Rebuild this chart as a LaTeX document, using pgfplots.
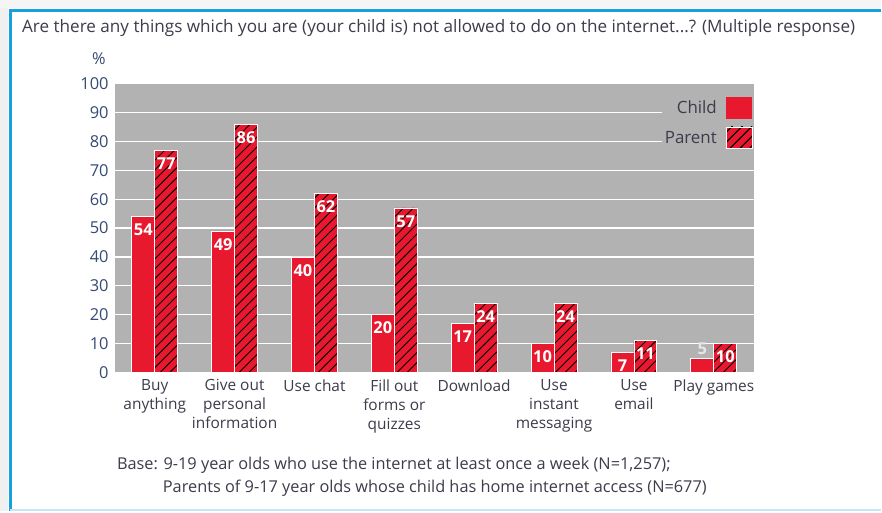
\documentclass[border=0pt]{standalone}
\usepackage{fontspec}
\setmainfont{Open Sans}
\usepackage{pgfplots}
\pgfplotsset{compat=1.18}
\usetikzlibrary{patterns.meta}
\definecolor{barred}{RGB}{232,24,46}
\definecolor{bggray}{RGB}{178,178,178}
\definecolor{frameblue}{RGB}{20,160,225}
\definecolor{txt}{RGB}{60,60,75}
\definecolor{ticktxt}{RGB}{55,75,115}
\definecolor{lightlab}{RGB}{230,230,230}

\pgfplotsset{layers/mine/.define layer set={axis background,axis grid,pre main,main,axis ticks,axis lines,axis tick labels,axis descriptions,axis foreground}{}}

\begin{document}
\begin{tikzpicture}[x=1bp,y=1bp]
\fill[white] (0,0) rectangle (882,512);
\fill[black!6] (0,0) rectangle (8,512);
\fill[black!4] (0,504) rectangle (882,512);
\draw[frameblue, line width=3bp] (10.5,0) -- (10.5,501.5) -- (882,501.5);
\draw[frameblue!25, line width=2bp] (10,1) -- (882,1);

\node[anchor=base west, inner sep=0, text=txt, font=\fontsize{17.2}{19}\selectfont] at (22,479)
  {Are there any things which you are (your child is) not allowed to do on the internet...? (Multiple response)};
\node[anchor=base, inner sep=0, text=ticktxt, font=\fontsize{16.5}{19}\selectfont] at (99,447) {\%};

\begin{axis}[
  set layers=mine,
  at={(115bp,139bp)}, anchor=south west,
  scale only axis, width=640bp, height=289bp,
  xmin=-0.5, xmax=7.5, ymin=0, ymax=100,
  ybar=0pt, bar width=23bp,
  axis background/.style={fill=bggray},
  axis line style={draw=none},
  ytick={0,10,...,100},
  minor ytick={10,20,...,90},
  yminorgrids, minor grid style={white, line width=1.3bp},
  ytick style={draw=none},
  minor tick length=0pt,
  xtick={0,...,7},
  xticklabels={Buy\\anything, Give out\\personal\\information, Use chat, Fill out\\forms or\\quizzes, Download, Use\\instant\\messaging, Use\\email, Play games},
  xticklabel style={align=center, text=txt, font=\fontsize{15.5}{19}\selectfont, anchor=north, inner sep=0pt, yshift=-7bp},
  yticklabel style={text=ticktxt, font=\fontsize{16.5}{19}\selectfont, anchor=east, inner sep=0pt, xshift=-6bp},
  /pgf/number format/assume math mode=true,
  xtick style={black, line width=1.2bp},
  major tick length=5bp, tick align=inside, xtick pos=bottom, ytick pos=left,
  legend plot pos=right, legend cell align=right,
  legend style={at={(1,0.96)}, anchor=north east, fill=bggray, draw=none, inner sep=1bp,
    font=\fontsize{17}{19}\selectfont, text=txt, row sep=8bp,
    /tikz/every odd column/.append style={column sep=7bp}},
]
\addplot[fill=barred, draw=white, line width=0.8bp, bar shift=-11.5bp,
  nodes near coords,
  nodes near coords style={font=\bfseries\fontsize{16.5}{16.5}\selectfont, text=white, anchor=north, inner sep=2bp, yshift=-5bp},
  legend image code/.code={\draw[fill=barred,draw=none] (0bp,-11bp) rectangle (26bp,11bp);}]
  coordinates {(0,54) (1,49) (2,40) (3,20) (4,17) (5,10) (6,7)};
\addlegendentry{Child}
\addplot[fill=barred, draw=white, line width=0.8bp, bar shift=11.5bp,
  postaction={pattern color=black, pattern={Lines[angle=45,distance=7bp,line width=0.9bp]}},
  nodes near coords,
  nodes near coords style={font=\bfseries\fontsize{16.5}{16.5}\selectfont, text=white, anchor=north, inner sep=2bp, yshift=-5bp},
  legend image code/.code={\draw[fill=barred,draw=none,postaction={pattern color=black, pattern={Lines[angle=45,distance=7bp,line width=0.9bp]}}] (0bp,-11bp) rectangle (26bp,11bp);}]
  coordinates {(0,77) (1,86) (2,62) (3,57) (4,24) (5,24) (6,11) (7,10)};
\addlegendentry{Parent}
\addplot[forget plot, fill=barred, draw=white, line width=0.8bp, bar shift=-11.5bp,
  nodes near coords,
  nodes near coords style={font=\bfseries\fontsize{16.5}{16.5}\selectfont, text=lightlab, anchor=south, inner sep=2bp, yshift=1bp}]
  coordinates {(7,5)};
\end{axis}

\node[anchor=base west, inner sep=0, text=txt, font=\fontsize{16.4}{19}\selectfont] at (117,42)
  {Base: 9-19 year olds who use the internet at least once a week (N=1,257);};
\node[anchor=base west, inner sep=0, text=txt, font=\fontsize{16.4}{19}\selectfont] at (163,19)
  {Parents of 9-17 year olds whose child has home internet access (N=677)};
\end{tikzpicture}
\end{document}
